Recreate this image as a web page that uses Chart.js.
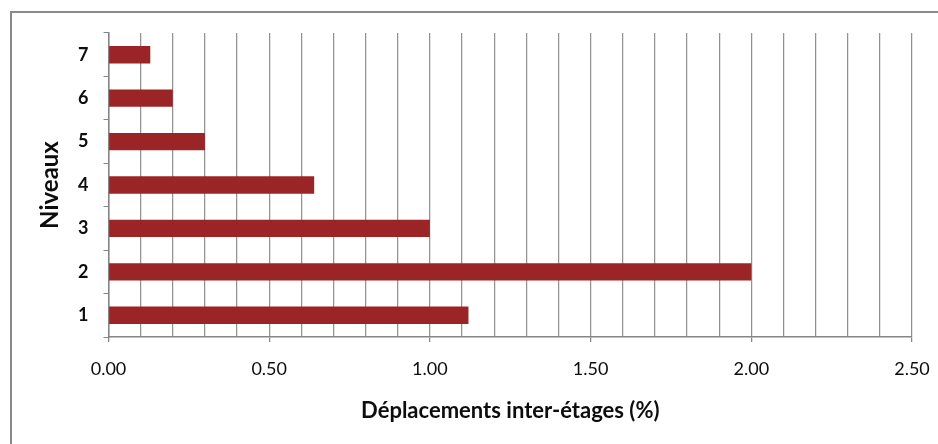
<!DOCTYPE html>
<html>
<head>
<meta charset="utf-8">
<script src="https://cdn.jsdelivr.net/npm/chart.js@4.4.1/dist/chart.umd.min.js"></script>
<style>
  html, body { margin: 0; padding: 0; background: #fff; }
  #wrap { position: relative; width: 938px; height: 444px; overflow: hidden; }
  #frame { position: absolute; left: 10px; top: 11px; width: 1000px; height: 1000px;
           border: 2px solid #8a8a8a; box-sizing: border-box; }
  canvas { position: absolute; left: 0; top: 0; }
</style>
</head>
<body>
<div id="wrap">
  <div id="frame"></div>
  <canvas id="chart" width="938" height="444"></canvas>
</div>
<script>
// Storey levels (bottom to top) and inter-storey drift in percent
const niveaux = ['1', '2', '3', '4', '5', '6', '7'];
const deplacements = [1.12, 2.00, 1.00, 0.64, 0.30, 0.20, 0.13];

const axisMin = 0;
const axisMax = 2.5;
const gridStep = 0.1;
const labelStep = 0.5;

const textColor = '#0d0d0d';
const axisColor = '#858585';
const gridColor = '#929292';
const barColor = '#9b2526';

const isLabelled = v => Math.round(v / gridStep) % Math.round(labelStep / gridStep) === 0;

new Chart(document.getElementById('chart'), {
  type: 'bar',
  data: {
    labels: niveaux,
    datasets: [{
      data: deplacements,
      backgroundColor: barColor,
      borderWidth: 0,
      barPercentage: 0.4,
      categoryPercentage: 1.0
    }]
  },
  options: {
    indexAxis: 'y',
    responsive: false,
    animation: false,
    layout: { padding: { left: 10, right: 26, top: 33, bottom: 0 } },
    plugins: { legend: { display: false }, tooltip: { enabled: false } },
    scales: {
      x: {
        type: 'linear',
        min: axisMin,
        max: axisMax,
        afterFit: s => { s.height = 107; s.paddingLeft = 0; s.paddingRight = 0; },
        border: { color: axisColor, width: 1.5 },
        grid: {
          color: gridColor,
          lineWidth: 1.25,
          drawTicks: true,
          tickLength: 5,
          tickColor: c => (c.tick && isLabelled(c.tick.value)) ? axisColor : 'rgba(0,0,0,0)'
        },
        ticks: {
          stepSize: gridStep,
          autoSkip: false,
          maxRotation: 0,
          padding: 16,
          color: textColor,
          font: { family: 'Lato', size: 18 },
          callback: v => isLabelled(v) ? Number(v).toFixed(2) : ''
        },
        title: {
          display: true,
          text: 'Déplacements inter-étages (%)',
          color: textColor,
          font: { family: 'Lato', size: 22, weight: 'bold' },
          padding: { top: 0, bottom: 20 }
        }
      },
      y: {
        reverse: true,
        afterFit: s => { s.width = 98.5; s.paddingTop = 0; s.paddingBottom = 0; },
        border: { color: axisColor, width: 1.5 },
        grid: {
          offset: true,
          drawOnChartArea: false,
          drawTicks: true,
          tickLength: 5,
          tickColor: axisColor
        },
        ticks: {
          padding: 15,
          color: textColor,
          font: { family: 'Lato', size: 18, weight: 'bold' }
        },
        title: {
          display: true,
          text: 'Niveaux',
          color: textColor,
          font: { family: 'Lato', size: 24, weight: 'bold' },
          padding: { top: 26, bottom: 0 }
        }
      }
    }
  }
});
</script>
</body>
</html>
